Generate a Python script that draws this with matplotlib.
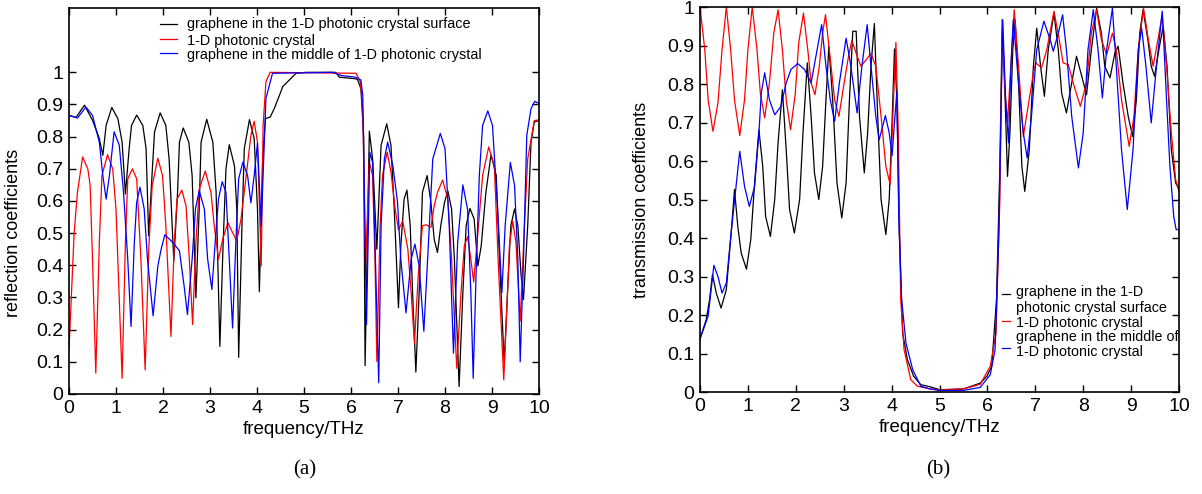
import matplotlib
matplotlib.use("Agg")
import matplotlib.pyplot as plt
from matplotlib.lines import Line2D

plt.rcParams['font.family'] = ['Liberation Sans', 'DejaVu Sans']

# ---------------- (a) reflection coefficients ----------------
ref_black_f = [0.0, 0.15, 0.33, 0.50, 0.645, 0.72, 0.79, 0.91, 1.04, 1.13, 1.20, 1.28, 1.33, 1.44,
               1.57, 1.64, 1.695, 1.77, 1.82, 1.94, 2.06, 2.13, 2.23, 2.31, 2.35, 2.43, 2.55, 2.62,
               2.70, 2.77, 2.81, 2.93, 3.06, 3.13, 3.21, 3.28, 3.34, 3.41, 3.52, 3.57, 3.61, 3.68,
               3.73, 3.84, 3.94, 4.01, 4.05, 4.12, 4.18, 4.28, 4.37, 4.55, 4.83, 5.04, 5.68, 5.75,
               6.10, 6.14, 6.21, 6.27, 6.30, 6.39, 6.46, 6.55, 6.64, 6.76, 6.85, 6.92, 7.01, 7.06,
               7.13, 7.19, 7.26, 7.31, 7.38, 7.45, 7.52, 7.62, 7.70, 7.77, 7.84, 7.91, 7.99, 8.06,
               8.14, 8.20, 8.30, 8.38, 8.45, 8.53, 8.62, 8.70, 8.77, 8.87, 8.98, 9.09, 9.16, 9.26,
               9.33, 9.40, 9.48, 9.55, 9.62, 9.67, 9.76, 9.83, 9.90, 10.0]
ref_black_v = [0.866, 0.86, 0.898, 0.851, 0.794, 0.742, 0.835, 0.891, 0.856, 0.783, 0.622, 0.763, 0.835, 0.867,
               0.835, 0.763, 0.492, 0.69, 0.815, 0.874, 0.835, 0.731, 0.413, 0.627, 0.783, 0.827, 0.783, 0.679,
               0.299, 0.575, 0.783, 0.854, 0.783, 0.627, 0.148, 0.471, 0.70, 0.775, 0.71, 0.575, 0.114, 0.523,
               0.763, 0.853, 0.794, 0.575, 0.318, 0.731, 0.856, 0.861, 0.888, 0.956, 0.997, 1.0, 1.0, 0.985,
               0.98, 0.977, 0.95, 0.80, 0.088, 0.817, 0.731, 0.45, 0.773, 0.84, 0.773, 0.575, 0.268, 0.46,
               0.606, 0.634, 0.523, 0.315, 0.068, 0.315, 0.627, 0.679, 0.596, 0.481, 0.44, 0.523, 0.596, 0.632,
               0.575, 0.419, 0.023, 0.315, 0.523, 0.577, 0.544, 0.398, 0.46, 0.627, 0.744, 0.679, 0.419, 0.096,
               0.315, 0.523, 0.575, 0.523, 0.367, 0.294, 0.523, 0.783, 0.846, 0.85]

ref_red_f = [0.0, 0.11, 0.18, 0.29, 0.40, 0.45, 0.50, 0.57, 0.645, 0.70, 0.82, 0.93, 1.0, 1.13,
             1.20, 1.25, 1.35, 1.44, 1.53, 1.62, 1.70, 1.77, 1.89, 1.99, 2.06, 2.17, 2.24, 2.30,
             2.40, 2.49, 2.56, 2.63, 2.70, 2.77, 2.90, 3.02, 3.09, 3.18, 3.27, 3.38, 3.48, 3.57,
             3.66, 3.77, 3.87, 3.94, 4.01, 4.09, 4.13, 4.19, 4.28, 6.11, 6.20, 6.25, 6.31, 6.39,
             6.46, 6.51, 6.55, 6.62, 6.67, 6.77, 6.85, 6.94, 7.01, 7.10, 7.21, 7.28, 7.35, 7.43,
             7.52, 7.60, 7.70, 7.77, 7.84, 7.95, 8.06, 8.14, 8.25, 8.34, 8.41, 8.48, 8.55, 8.61,
             8.70, 8.80, 8.93, 9.05, 9.13, 9.25, 9.33, 9.37, 9.44, 9.51, 9.60, 9.69, 9.76, 9.90, 10.0]
ref_red_v = [0.138, 0.502, 0.627, 0.737, 0.70, 0.648, 0.419, 0.065, 0.471, 0.679, 0.744, 0.70, 0.575, 0.049,
             0.471, 0.669, 0.70, 0.669, 0.419, 0.075, 0.46, 0.648, 0.733, 0.679, 0.523, 0.179, 0.471, 0.606,
             0.634, 0.585, 0.419, 0.216, 0.471, 0.637, 0.693, 0.627, 0.523, 0.419, 0.481, 0.533, 0.502, 0.476,
             0.544, 0.679, 0.804, 0.848, 0.783, 0.398, 0.835, 0.971, 1.0, 0.997, 0.97, 0.887, 0.40, 0.72,
             0.679, 0.419, 0.101, 0.523, 0.679, 0.752, 0.69, 0.575, 0.51, 0.538, 0.45, 0.315, 0.158, 0.367,
             0.523, 0.526, 0.518, 0.585, 0.627, 0.665, 0.606, 0.419, 0.08, 0.315, 0.46, 0.489, 0.419, 0.348,
             0.502, 0.679, 0.768, 0.71, 0.419, 0.044, 0.315, 0.46, 0.538, 0.471, 0.226, 0.523, 0.731, 0.85, 0.852]

ref_blue_f = [0.0, 0.18, 0.36, 0.50, 0.645, 0.72, 0.79, 0.86, 0.96, 1.07, 1.16, 1.25, 1.32, 1.39,
              1.44, 1.51, 1.60, 1.67, 1.79, 1.89, 1.96, 2.04, 2.21, 2.35, 2.45, 2.52, 2.62, 2.69,
              2.77, 2.88, 2.95, 3.04, 3.11, 3.18, 3.26, 3.34, 3.41, 3.48, 3.55, 3.61, 3.70, 3.80,
              3.87, 3.94, 4.01, 4.09, 4.19, 4.33, 5.60, 5.80, 6.10, 6.21, 6.25, 6.33, 6.40, 6.46,
              6.51, 6.59, 6.64, 6.71, 6.78, 6.89, 6.99, 7.06, 7.17, 7.28, 7.36, 7.45, 7.55, 7.63,
              7.74, 7.90, 8.00, 8.09, 8.18, 8.27, 8.38, 8.48, 8.55, 8.60, 8.66, 8.73, 8.80, 8.91,
              9.01, 9.12, 9.21, 9.28, 9.39, 9.48, 9.55, 9.60, 9.67, 9.74, 9.83, 9.91, 10.0]
ref_blue_v = [0.866, 0.858, 0.892, 0.866, 0.783, 0.679, 0.606, 0.679, 0.815, 0.773, 0.627, 0.419, 0.21, 0.471,
              0.596, 0.643, 0.575, 0.419, 0.243, 0.398, 0.45, 0.495, 0.471, 0.445, 0.335, 0.247, 0.419, 0.575,
              0.632, 0.575, 0.419, 0.325, 0.471, 0.606, 0.66, 0.627, 0.419, 0.205, 0.471, 0.669, 0.721, 0.679,
              0.594, 0.679, 0.78, 0.523, 0.919, 0.997, 1.0, 0.99, 0.985, 0.976, 0.929, 0.216, 0.752, 0.72,
              0.471, 0.035, 0.523, 0.731, 0.783, 0.71, 0.596, 0.419, 0.252, 0.419, 0.466, 0.398, 0.195, 0.419,
              0.731, 0.81, 0.763, 0.523, 0.127, 0.471, 0.65, 0.575, 0.315, 0.049, 0.367, 0.679, 0.835, 0.88,
              0.835, 0.575, 0.315, 0.523, 0.72, 0.648, 0.419, 0.10, 0.419, 0.804, 0.887, 0.91, 0.903]

# ---------------- (b) transmission coefficients ----------------
tr_black_f = [0.0, 0.13, 0.20, 0.26, 0.34, 0.44, 0.55, 0.65, 0.72, 0.79, 0.86, 0.97, 1.06, 1.14,
              1.23, 1.31, 1.37, 1.47, 1.56, 1.63, 1.72, 1.80, 1.87, 1.97, 2.08, 2.15, 2.24, 2.32,
              2.39, 2.48, 2.56, 2.63, 2.69, 2.77, 2.86, 2.96, 3.05, 3.12, 3.19, 3.26, 3.33, 3.43,
              3.50, 3.57, 3.64, 3.71, 3.78, 3.88, 3.95, 4.01, 4.06, 4.11, 4.16, 4.23, 4.33, 4.46,
              4.61, 4.82, 5.0, 5.5, 5.85, 5.99, 6.09, 6.19, 6.26, 6.31, 6.37, 6.42, 6.47, 6.53,
              6.58, 6.65, 6.72, 6.78, 6.875, 6.96, 7.03, 7.11, 7.19, 7.27, 7.39, 7.48, 7.55, 7.65,
              7.76, 7.86, 7.97, 8.07, 8.17, 8.28, 8.38, 8.45, 8.56, 8.66, 8.73, 8.83, 8.94, 9.03,
              9.11, 9.18, 9.25, 9.35, 9.42, 9.49, 9.58, 9.67, 9.75, 9.84, 9.93, 10.0]
tr_black_v = [0.138, 0.188, 0.24, 0.305, 0.257, 0.218, 0.266, 0.413, 0.526, 0.429, 0.361, 0.319, 0.396, 0.543,
              0.681, 0.586, 0.456, 0.404, 0.50, 0.647, 0.785, 0.629, 0.474, 0.413, 0.50, 0.673, 0.855, 0.716,
              0.569, 0.50, 0.586, 0.759, 0.898, 0.759, 0.543, 0.452, 0.543, 0.759, 0.937, 0.937, 0.716, 0.569,
              0.673, 0.846, 0.957, 0.716, 0.50, 0.409, 0.50, 0.70, 0.891, 0.76, 0.413, 0.153, 0.084, 0.041,
              0.019, 0.013, 0.006, 0.008, 0.023, 0.041, 0.067, 0.24, 0.586, 0.967, 0.759, 0.56, 0.673, 0.889,
              0.967, 0.803, 0.586, 0.521, 0.629, 0.846, 0.945, 0.846, 0.768, 0.889, 0.984, 0.889, 0.776, 0.725,
              0.803, 0.872, 0.82, 0.772, 0.889, 0.997, 0.932, 0.846, 0.816, 0.88, 0.898, 0.803, 0.716, 0.664,
              0.759, 0.932, 0.993, 0.915, 0.846, 0.82, 0.889, 0.95, 0.846, 0.629, 0.543, 0.526]

tr_red_f = [0.0, 0.10, 0.17, 0.27, 0.375, 0.46, 0.55, 0.64, 0.72, 0.83, 0.93, 1.0, 1.09, 1.19,
            1.26, 1.35, 1.45, 1.54, 1.63, 1.72, 1.80, 1.89, 1.99, 2.06, 2.16, 2.25, 2.32, 2.40,
            2.49, 2.56, 2.62, 2.70, 2.81, 2.90, 3.01, 3.10, 3.17, 3.26, 3.36, 3.47, 3.57, 3.67,
            3.78, 3.88, 3.97, 4.04, 4.09, 4.14, 4.19, 4.26, 4.40, 4.54, 4.80, 5.0, 5.5, 5.85,
            6.06, 6.18, 6.26, 6.31, 6.37, 6.42, 6.49, 6.56, 6.65, 6.75, 6.85, 6.96, 7.01, 7.13,
            7.24, 7.39, 7.50, 7.58, 7.69, 7.79, 7.94, 8.07, 8.17, 8.28, 8.38, 8.49, 8.61, 8.69,
            8.80, 8.96, 9.06, 9.15, 9.26, 9.36, 9.46, 9.56, 9.65, 9.74, 9.84, 9.93, 10.0]
tr_red_v = [1.0, 0.889, 0.759, 0.677, 0.751, 0.889, 1.0, 0.889, 0.759, 0.666, 0.759, 0.889, 1.0, 0.889,
            0.776, 0.712, 0.803, 0.932, 0.993, 0.889, 0.759, 0.681, 0.776, 0.906, 0.984, 0.889, 0.803, 0.772,
            0.846, 0.932, 0.98, 0.889, 0.759, 0.716, 0.803, 0.872, 0.913, 0.88, 0.846, 0.863, 0.879, 0.846,
            0.716, 0.586, 0.539, 0.759, 0.908, 0.673, 0.24, 0.11, 0.032, 0.015, 0.008, 0.005, 0.008, 0.02,
            0.067, 0.153, 0.50, 0.94, 0.78, 0.699, 0.846, 0.993, 0.846, 0.664, 0.742, 0.829, 0.855, 0.842,
            0.889, 0.989, 0.915, 0.855, 0.85, 0.803, 0.742, 0.803, 0.932, 0.993, 0.915, 0.876, 0.932, 0.889,
            0.759, 0.638, 0.716, 0.889, 0.997, 0.915, 0.846, 0.915, 0.98, 0.846, 0.673, 0.552, 0.521]

tr_blue_f = [0.0, 0.17, 0.29, 0.375, 0.46, 0.55, 0.65, 0.76, 0.83, 0.93, 1.03, 1.14, 1.23, 1.28,
             1.35, 1.45, 1.56, 1.69, 1.80, 1.90, 2.04, 2.18, 2.32, 2.42, 2.54, 2.63, 2.72, 2.81,
             2.91, 3.05, 3.15, 3.28, 3.38, 3.49, 3.57, 3.67, 3.74, 3.87, 3.95, 4.01, 4.07, 4.11,
             4.15, 4.21, 4.30, 4.44, 4.61, 4.80, 5.0, 5.5, 5.85, 6.06, 6.16, 6.24, 6.32, 6.38,
             6.44, 6.49, 6.54, 6.65, 6.75, 6.83, 6.92, 7.03, 7.18, 7.31, 7.375, 7.48, 7.57, 7.65,
             7.76, 7.90, 8.00, 8.10, 8.21, 8.31, 8.40, 8.49, 8.61, 8.69, 8.80, 8.92, 9.04, 9.15,
             9.22, 9.31, 9.42, 9.53, 9.65, 9.74, 9.81, 9.89, 9.94, 10.0]
tr_blue_v = [0.138, 0.197, 0.329, 0.30, 0.257, 0.283, 0.413, 0.543, 0.625, 0.534, 0.482, 0.534, 0.673, 0.777,
             0.829, 0.759, 0.72, 0.742, 0.803, 0.838, 0.853, 0.838, 0.803, 0.872, 0.954, 0.846, 0.759, 0.703,
             0.803, 0.919, 0.846, 0.725, 0.846, 0.954, 0.846, 0.716, 0.655, 0.718, 0.673, 0.614, 0.716, 0.781,
             0.456, 0.24, 0.127, 0.058, 0.015, 0.008, 0.004, 0.004, 0.012, 0.045, 0.11, 0.42, 0.967, 0.76,
             0.647, 0.846, 0.967, 0.803, 0.673, 0.608, 0.716, 0.889, 0.963, 0.915, 0.885, 0.932, 0.98, 0.889,
             0.716, 0.582, 0.673, 0.889, 0.993, 0.889, 0.764, 0.889, 0.997, 0.846, 0.629, 0.474, 0.629, 0.889,
             0.945, 0.846, 0.699, 0.846, 0.989, 0.759, 0.586, 0.456, 0.422, 0.422]

legend_a = ["graphene in the 1-D photonic crystal surface",
            "1-D photonic crystal",
            "graphene in the middle of 1-D photonic crystal"]
legend_b_lines = ["graphene in the 1-D", "photonic crystal surface",
                  "1-D photonic crystal",
                  "graphene in the middle of", "1-D photonic crystal"]

x_ticks = list(range(0, 11))
y_ticks = [0, 0.1, 0.2, 0.3, 0.4, 0.5, 0.6, 0.7, 0.8, 0.9, 1]
y_tick_labels = ["0", "0.1", "0.2", "0.3", "0.4", "0.5", "0.6", "0.7", "0.8", "0.9", "1"]

W, H = 1202, 494
fig = plt.figure(figsize=(W / 100, H / 100), dpi=100)

def px_axes(l, r, t, b):
    return fig.add_axes([l / W, 1 - b / H, (r - l) / W, (b - t) / H])

ax1 = px_axes(69, 539, 8, 394)
ax2 = px_axes(700, 1179, 7, 392)

lw = 0.9
ax1.plot(ref_black_f, ref_black_v, color='black', lw=lw)
ax1.plot(ref_red_f, ref_red_v, color='red', lw=lw)
ax1.plot(ref_blue_f, ref_blue_v, color='blue', lw=lw)

ax2.plot(tr_black_f, tr_black_v, color='black', lw=lw)
ax2.plot(tr_red_f, tr_red_v, color='red', lw=lw)
ax2.plot(tr_blue_f, tr_blue_v, color='blue', lw=lw)

for ax, ytop in ((ax1, 1.2), (ax2, 1.0)):
    ax.set_xlim(0, 10)
    ax.set_ylim(0, ytop)
    ax.set_xticks(x_ticks)
    ax.set_yticks(y_ticks)
    ax.set_yticklabels(y_tick_labels)
    ax.tick_params(direction='in', top=True, right=True, length=5, width=1,
                   labelsize=14, pad=4)
    for s in ax.spines.values():
        s.set_linewidth(1.2)
    ax.set_xlabel("frequency/THz", fontsize=13.5, labelpad=3)

ax1.set_ylabel("reflection coefficients", fontsize=13)
ax1.yaxis.set_label_coords(-0.10, 0.5 / 1.2)
ax2.set_ylabel("transmission coefficients", fontsize=13)
ax2.yaxis.set_label_coords(-0.104, 0.5)

# panel letters
fig.text(305 / W, 1 - 470 / H, "(a)", family='Liberation Serif', fontsize=15, ha='center', va='center')
fig.text(938 / W, 1 - 470 / H, "(b)", family='Liberation Serif', fontsize=15, ha='center', va='center')

# legend (a)
cols = ['black', 'red', 'blue']
for c, yh in zip(cols, [0.959, 0.920, 0.883]):
    ax1.add_line(Line2D([0.194, 0.230], [yh, yh], transform=ax1.transAxes, color=c, lw=0.9))
for txt, yt in zip(legend_a, [0.959, 0.915, 0.877]):
    ax1.text(0.251, yt, txt, transform=ax1.transAxes, fontsize=10.4, va='center', ha='left')

# legend (b)
for c, yh in zip(cols, [0.255, 0.184, 0.114]):
    ax2.add_line(Line2D([0.630, 0.647], [yh, yh], transform=ax2.transAxes, color=c, lw=0.9))
for txt, yt in zip(legend_b_lines, [0.259, 0.218, 0.180, 0.142, 0.104]):
    ax2.text(0.66, yt, txt, transform=ax2.transAxes, fontsize=10.3, va='center', ha='left')

fig.savefig("out.png", dpi=100)
